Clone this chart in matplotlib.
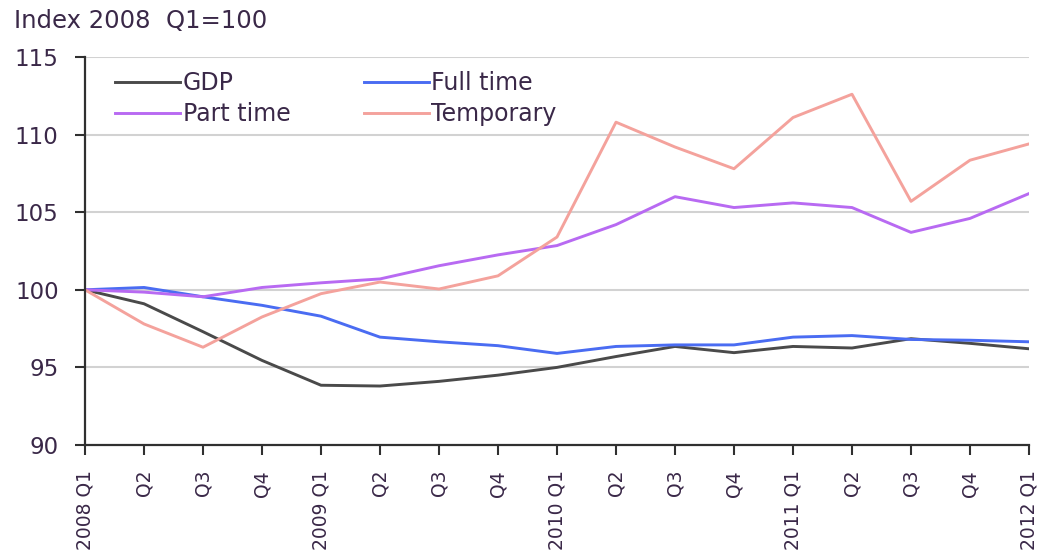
import matplotlib
matplotlib.use("Agg")
import matplotlib.pyplot as plt

plt.rcParams['font.family'] = ['DejaVu Sans']

quarters = ["2008 Q1", "Q2", "Q3", "Q4",
            "2009 Q1", "Q2", "Q3", "Q4",
            "2010 Q1", "Q2", "Q3", "Q4",
            "2011 Q1", "Q2", "Q3", "Q4",
            "2012 Q1"]

gdp = [100, 99.1, 97.3, 95.45, 93.85, 93.8, 94.1, 94.5, 95.0,
       95.7, 96.35, 95.95, 96.35, 96.25, 96.85, 96.55, 96.2]
full_time = [100, 100.15, 99.55, 99.0, 98.3, 96.95, 96.65, 96.4, 95.9,
             96.35, 96.45, 96.45, 96.95, 97.05, 96.8, 96.75, 96.65]
part_time = [100, 99.85, 99.55, 100.15, 100.45, 100.7, 101.55, 102.25, 102.85,
             104.2, 106.0, 105.3, 105.6, 105.3, 103.7, 104.6, 106.2]
temporary = [100, 97.8, 96.3, 98.25, 99.75, 100.5, 100.05, 100.9, 103.4,
             110.8, 109.2, 107.8, 111.1, 112.6, 105.7, 108.35, 109.4]

series_names = ["GDP", "Full time", "Part time", "Temporary"]
yticks = [90, 95, 100, 105, 110, 115]

text_color = '#3a2848'
W, H = 1046, 551

fig = plt.figure(figsize=(W / 100, H / 100), dpi=100)
ax = fig.add_axes([85 / W, 1 - 445 / H, (1029 - 85) / W, (445 - 57) / H])

x = list(range(len(quarters)))
ax.plot(x, gdp, color='#4a4a4a', lw=2.1, label=series_names[0])
ax.plot(x, full_time, color='#4a6cf2', lw=2.1, label=series_names[1])
ax.plot(x, part_time, color='#b86af2', lw=2.1, label=series_names[2])
ax.plot(x, temporary, color='#f4a29c', lw=2.1, label=series_names[3])

ax.set_xlim(0, len(quarters) - 1)
ax.set_ylim(90, 115)
ax.set_yticks(yticks)
ax.set_yticklabels([str(v) for v in yticks], fontsize=16.5, color=text_color)
ax.set_xticks(x)
ax.set_xticklabels(quarters, rotation=90, fontsize=13.5, color=text_color)

for v in yticks[1:]:
    ax.axhline(v, color='#d2d2d2', lw=1.5, zorder=0)

for s in ['top', 'right']:
    ax.spines[s].set_visible(False)
for s in ['left', 'bottom']:
    ax.spines[s].set_color('#303030')
    ax.spines[s].set_linewidth(1.6)
ax.tick_params(axis='both', direction='out', length=7, width=1.5, color='#303030')
ax.tick_params(axis='y', pad=12)
ax.tick_params(axis='x', pad=11)

handles, labels = ax.get_legend_handles_labels()
order = [0, 2, 1, 3]
leg = ax.legend([handles[i] for i in order], [labels[i] for i in order],
                ncol=2, frameon=False, loc='upper left',
                bbox_to_anchor=((115 - 85) / (1029 - 85), (445 - 71) / (445 - 57)),
                borderaxespad=0, borderpad=0, fontsize=17,
                handlelength=2.75, handletextpad=0.12, columnspacing=3.1,
                labelspacing=0.3)
for t in leg.get_texts():
    t.set_color(text_color)

fig.text(14 / W, 1 - 21 / H, "Index 2008  Q1=100", fontsize=17.5,
         color=text_color, va='center', ha='left')

fig.savefig("out.png", dpi=100)
